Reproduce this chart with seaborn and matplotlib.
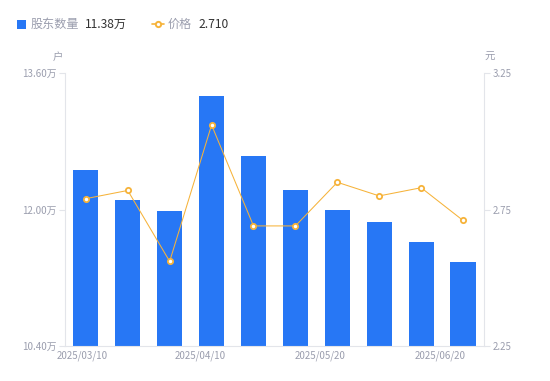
import matplotlib
matplotlib.use("Agg")
import matplotlib.pyplot as plt
import seaborn as sns
import pandas as pd
from matplotlib.lines import Line2D
from matplotlib.patches import Rectangle

dates = ["2025/03/10", "2025/03/20", "2025/03/31", "2025/04/10", "2025/04/20",
         "2025/04/30", "2025/05/20", "2025/05/30", "2025/06/10", "2025/06/20"]
holders = [12.46, 12.11, 11.98, 13.33, 12.63, 12.23, 12.00, 11.85, 11.62, 11.38]
prices = [2.79, 2.82, 2.56, 3.06, 2.69, 2.69, 2.85, 2.80, 2.83, 2.71]
shown_labels = ["2025/03/10", "2025/04/10", "2025/05/20", "2025/06/20"]

sns.set_theme(style="white")
plt.rcParams["font.family"] = ["Noto Sans CJK SC", "DejaVu Sans"]

BLUE = "#2777f5"
ORANGE = "#f6b33a"
GRAY = "#9b9eae"
AXC = "#e3e5ea"

df = pd.DataFrame({"date": dates, "holders": holders, "price": prices, "i": range(len(dates))})

fig = plt.figure(figsize=(5.5, 3.81), dpi=100)
ax = fig.add_axes([0.118, 0.092, 0.762, 0.716])
sns.barplot(data=df, x="date", y="holders", color=BLUE, width=0.6, ax=ax,
            saturation=1, edgecolor=BLUE, linewidth=0)
ax.set_ylim(10.40, 13.60)
ax.set_xlim(-0.5, len(dates) - 0.5)
ax.set_yticks([10.40, 12.00, 13.60])
ax.set_yticklabels(["10.40万", "12.00万", "13.60万"])
ax.set_xticks([-0.08, 2.74, 5.6, 8.45])
ax.set_xticklabels(shown_labels)
ax.set_xlabel("")
ax.set_ylabel("")

ax2 = ax.twinx()
sns.lineplot(data=df, x="i", y="price", color=ORANGE, linewidth=0.75, ax=ax2,
             marker="o", markersize=3.8, markerfacecolor="white",
             markeredgecolor=ORANGE, markeredgewidth=1.3)
ax2.set_ylim(2.25, 3.25)
ax2.set_yticks([2.25, 2.75, 3.25])
ax2.set_yticklabels(["2.25", "2.75", "3.25"])
ax2.set_xlabel("")
ax2.set_ylabel("")
ax2.set_xlim(-0.5, len(dates) - 0.5)

for a in (ax, ax2):
    for s in a.spines.values():
        s.set_visible(False)
    a.grid(False)
ax.spines["left"].set_visible(True)
ax.spines["left"].set_color(AXC)
ax.spines["bottom"].set_visible(True)
ax.spines["bottom"].set_color(AXC)
ax2.spines["right"].set_visible(True)
ax2.spines["right"].set_color(AXC)
for sp in ("left", "bottom"):
    ax.spines[sp].set_linewidth(0.8)
ax2.spines["right"].set_linewidth(0.8)

ax.tick_params(axis="y", length=4, width=0.8, color=AXC, labelsize=7, labelcolor=GRAY, pad=2, left=True)
ax.tick_params(axis="x", length=0, labelsize=7, labelcolor=GRAY, pad=3)
ax2.tick_params(axis="y", length=4, width=0.8, color=AXC, labelsize=7, labelcolor=GRAY, pad=2, right=True)

fig.text(58 / 550, 1 - 57 / 381, "户", fontsize=7.5, color=GRAY, ha="center", va="center")
fig.text(490 / 550, 1 - 57 / 381, "元", fontsize=7.5, color=GRAY, ha="center", va="center")

# legend
fig.patches.append(Rectangle((17 / 550, 1 - 29 / 381), 9 / 550, 9 / 381, transform=fig.transFigure,
                             facecolor=BLUE, edgecolor="none"))
fig.text(31 / 550, 1 - 24 / 381, "股东数量", fontsize=8.7, color=GRAY, ha="left", va="center")
fig.text(85 / 550, 1 - 24 / 381, "11.38万", fontsize=8.7, color="#333333", ha="left", va="center")
fig.lines.append(Line2D([152 / 550, 164 / 550], [1 - 24 / 381, 1 - 24 / 381], transform=fig.transFigure,
                        color=ORANGE, linewidth=1.2))
fig.lines.append(Line2D([158 / 550], [1 - 24 / 381], transform=fig.transFigure,
                        color=ORANGE, marker="o", markersize=3.8, markerfacecolor="white",
                        markeredgecolor=ORANGE, markeredgewidth=1.4, linestyle="none"))
fig.text(168 / 550, 1 - 24 / 381, "价格", fontsize=8.7, color=GRAY, ha="left", va="center")
fig.text(198 / 550, 1 - 24 / 381, "2.710", fontsize=8.7, color="#333333", ha="left", va="center")

fig.savefig("out.png", dpi=100)
